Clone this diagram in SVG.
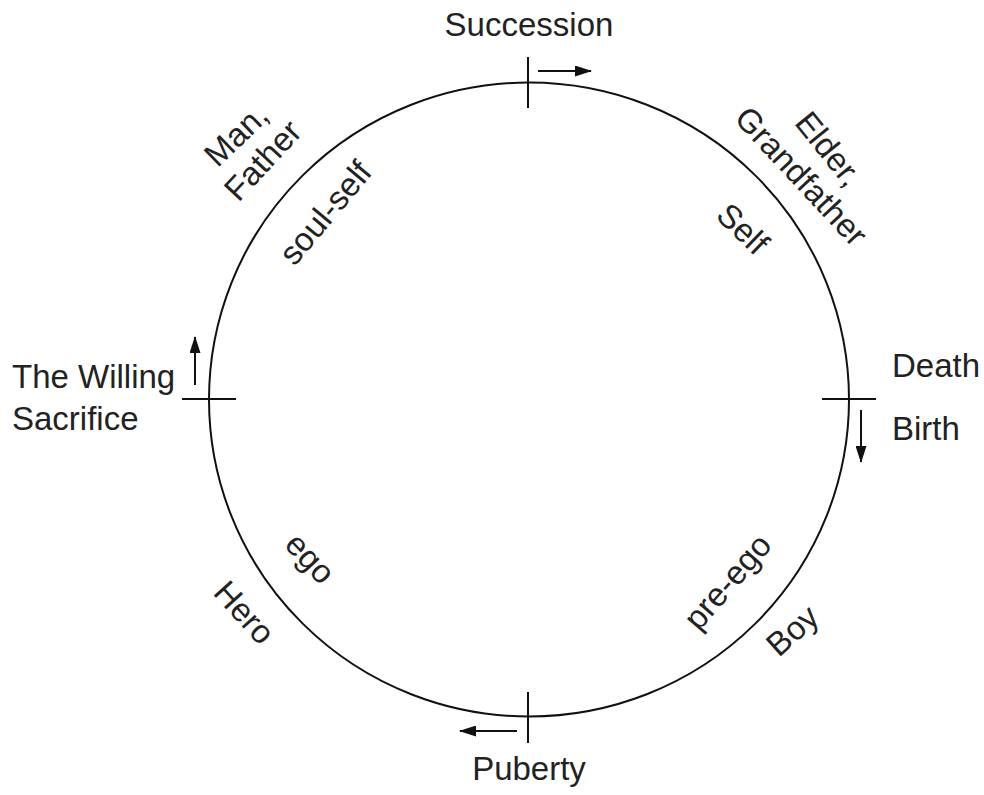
<svg xmlns="http://www.w3.org/2000/svg" width="984" height="795" viewBox="0 0 984 795">
<style>
text{font-family:"Liberation Sans",Arial,sans-serif;font-size:33px;fill:#222}
.c{text-anchor:middle}
.ln{stroke:#111;stroke-width:2;fill:none}
</style>
<defs>
<marker id="ah" markerUnits="userSpaceOnUse" markerWidth="17" markerHeight="11" refX="16" refY="5.5" orient="auto">
<path d="M0,0 L17,5.5 L0,11 z" fill="#111"/>
</marker>
</defs>
<rect width="984" height="795" fill="#fff"/>
<g id="wheel">
<ellipse class="ln" cx="529" cy="399.5" rx="320" ry="317"/>
</g>
<g id="connectors">
<line class="ln" x1="528" y1="57" x2="528" y2="108"/>
<line class="ln" x1="182" y1="399" x2="236" y2="399"/>
<line class="ln" x1="822" y1="399" x2="876" y2="399"/>
<line class="ln" x1="528" y1="692" x2="528" y2="743"/>
<line class="ln" x1="538" y1="71" x2="591" y2="71" marker-end="url(#ah)"/>
<line class="ln" x1="195" y1="385" x2="195" y2="337" marker-end="url(#ah)"/>
<line class="ln" x1="861" y1="410" x2="861" y2="462" marker-end="url(#ah)"/>
<line class="ln" x1="517" y1="731" x2="460" y2="731" marker-end="url(#ah)"/>
</g>
<g id="succession"><text class="c" x="529" y="36">Succession</text></g>
<g id="willing"><text x="12" y="388">The Willing</text><text x="12" y="430">Sacrifice</text></g>
<g id="death"><text x="892" y="377">Death</text></g>
<g id="birth"><text x="892" y="440">Birth</text></g>
<g id="puberty"><text class="c" x="529" y="780">Puberty</text></g>
<g id="man-father">
<text class="c" transform="translate(244,143) rotate(-44)">Man,</text>
<text class="c" transform="translate(271,168) rotate(-47)">Father</text>
</g>
<g id="soul-self"><text class="c" transform="translate(334,220) rotate(-50)">soul-self</text></g>
<g id="elder">
<text class="c" transform="translate(820,156) rotate(51)">Elder,</text>
<text class="c" transform="translate(793,184) rotate(47)">Grandfather</text>
</g>
<g id="self"><text class="c" transform="translate(735,237) rotate(44)">Self</text></g>
<g id="ego"><text class="c" transform="translate(302,566) rotate(47)">ego</text></g>
<g id="hero"><text class="c" transform="translate(236,620) rotate(48)">Hero</text></g>
<g id="pre-ego"><text class="c" transform="translate(736,589) rotate(-49)">pre-ego</text></g>
<g id="boy"><text class="c" transform="translate(800,639) rotate(-42)">Boy</text></g>
</svg>
